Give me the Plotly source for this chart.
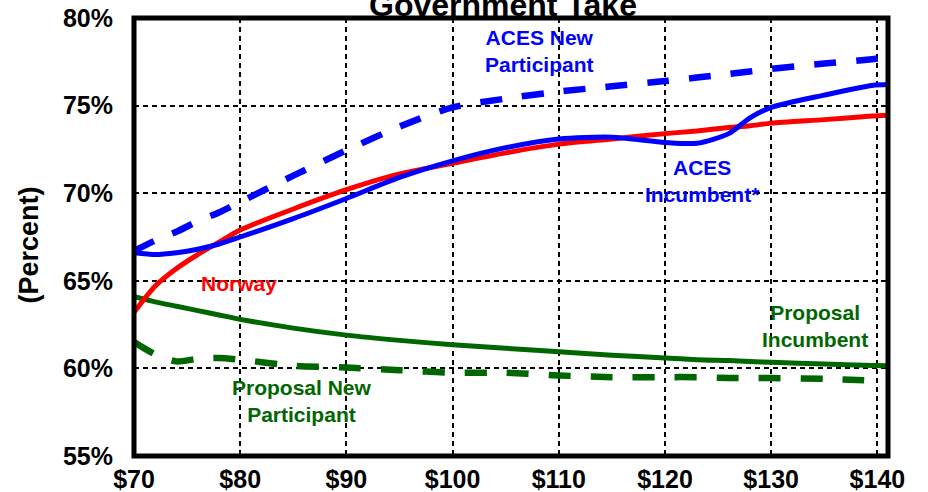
import plotly.graph_objects as go

# ---- data ----
price = [70, 72, 74, 76, 78, 80, 85, 90, 95, 100, 105, 110, 115, 120, 123, 126, 128, 130, 135, 139.5, 141]

aces_new = [66.7, 67.3, 67.8, 68.4, 68.9, 69.5, 71.0, 72.45, 73.8, 74.9, 75.4, 75.8, 76.1, 76.4, 76.6, 76.8, 76.95, 77.1, 77.4, 77.65, 77.75]
aces_inc = [66.6, 66.5, 66.6, 66.8, 67.1, 67.5, 68.55, 69.7, 70.9, 71.85, 72.6, 73.1, 73.2, 72.9, 72.85, 73.4, 74.3, 74.9, 75.6, 76.15, 76.2]
norway = [63.2, 64.7, 65.7, 66.5, 67.2, 67.9, 69.1, 70.2, 71.1, 71.7, 72.3, 72.8, 73.1, 73.4, 73.55, 73.75, 73.85, 74.0, 74.2, 74.4, 74.45]
prop_inc = [64.1, 63.8, 63.55, 63.3, 63.05, 62.8, 62.3, 61.9, 61.6, 61.35, 61.15, 60.95, 60.75, 60.6, 60.5, 60.45, 60.4, 60.35, 60.25, 60.17, 60.15]
prop_new = [61.5, 60.8, 60.4, 60.55, 60.6, 60.5, 60.15, 60.05, 59.9, 59.75, 59.75, 59.6, 59.5, 59.5, 59.5, 59.45, 59.45, 59.45, 59.4, 59.3, None]

x_ticks = [70, 80, 90, 100, 110, 120, 130, 140]
x_labels = ["$70", "$80", "$90", "$100", "$110", "$120", "$130", "$140"]
y_ticks = [55, 60, 65, 70, 75, 80]
y_labels = ["55%", "60%", "65%", "70%", "75%", "80%"]

BLUE = "#0000FF"
RED = "#FF0000"
GREEN = "#006600"
FONT = "Liberation Sans, Arial, sans-serif"

fig = go.Figure()


def add(y, color, width, dash):
    fig.add_trace(go.Scatter(
        x=price, y=y, mode="lines",
        line=dict(color=color, width=width, dash=dash, shape="spline", smoothing=0.7),
        connectgaps=False, hoverinfo="skip"))


add(prop_new, GREEN, 6.5, "22px,20px")
add(prop_inc, GREEN, 5, "solid")
add(norway, RED, 5, "solid")
add(aces_new, BLUE, 6.5, "22px,20px")
add(aces_inc, BLUE, 5, "solid")

axis_common = dict(
    showgrid=True, gridcolor="black", gridwidth=1.5, griddash="5px,4px",
    zeroline=False, showline=False, ticks="", automargin=False,
    tickfont=dict(family=FONT, size=25, color="black", weight="bold"),
)

fig.update_xaxes(range=[70, 141], tickmode="array", tickvals=x_ticks, ticktext=x_labels,
                 ticklabelstandoff=6, **axis_common)
fig.update_yaxes(range=[55, 80], tickmode="array", tickvals=y_ticks, ticktext=y_labels,
                 ticklabelstandoff=20, **axis_common)

# plot frame
fig.add_shape(type="rect", xref="paper", yref="paper", x0=0, x1=1, y0=0, y1=1,
              line=dict(color="black", width=5), layer="above")

labels = [
    (108.2, 78.09, "ACES New<br>Participant", BLUE),
    (123.5, 70.68, "ACES<br>Incumbent*", BLUE),
    (79.9, 64.86, "Norway", RED),
    (85.8, 58.14, "Proposal New<br>Participant", GREEN),
    (134.1, 62.41, "Proposal<br>Incumbent", GREEN),
]
for lx, ly, txt, col in labels:
    fig.add_annotation(x=lx, y=ly, xref="x", yref="y", text=txt, showarrow=False,
                       xanchor="center", yanchor="middle",
                       font=dict(family=FONT, size=21, color=col, weight="bold"))

# y-axis title
fig.add_annotation(x=-0.139, y=0.481, xref="paper", yref="paper", text="(Percent)",
                   textangle=-90, showarrow=False, xanchor="center", yanchor="middle",
                   font=dict(family=FONT, size=27, color="black", weight="bold"))

# chart title (partly cut off at top, as in reference)
fig.add_annotation(x=0.49, y=0.985, xref="paper", yref="paper", text="Government Take",
                   showarrow=False, xanchor="center", yanchor="bottom",
                   font=dict(family=FONT, size=32, color="black", weight="bold"))

fig.update_layout(
    width=928, height=492,
    margin=dict(l=134, r=40, t=18, b=36, autoexpand=False),
    plot_bgcolor="white", paper_bgcolor="white",
    showlegend=False,
)

fig.write_html("out.html", config={"displayModeBar": False},
               post_script="document.body.style.margin='0';")
